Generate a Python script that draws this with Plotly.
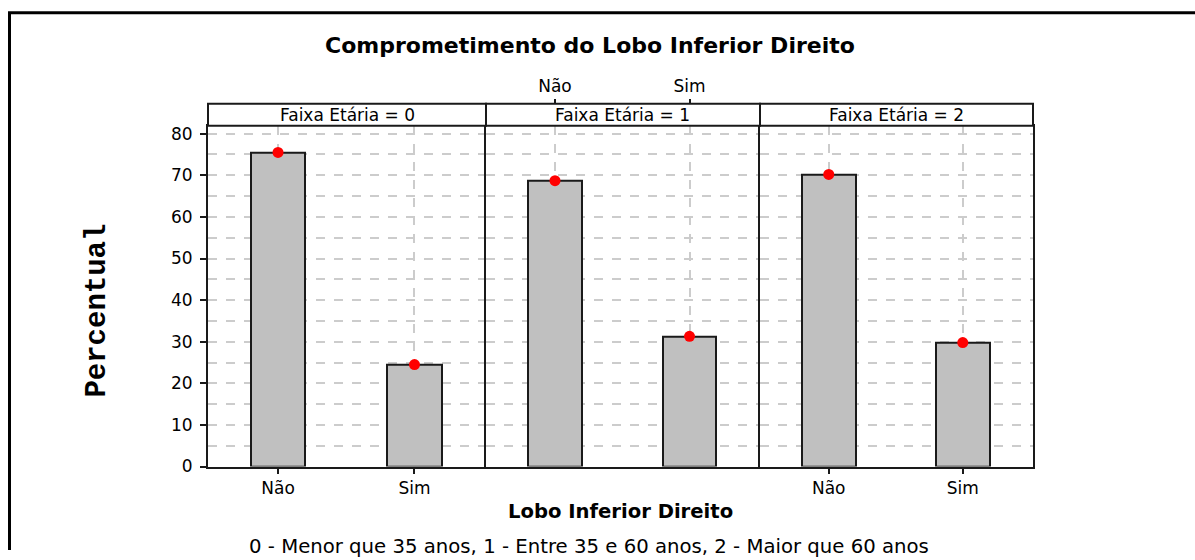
import plotly.graph_objects as go

W, H = 1195, 560

CATEGORIES = ["Não", "Sim"]
AGE_GROUPS = ["0", "1", "2"]
PCT_NAO = [75.5, 68.7, 70.2]
PCT_SIM = [24.5, 31.3, 29.8]
Y_TICKS = [0, 10, 20, 30, 40, 50, 60, 70, 80]

TITLE = "Comprometimento do Lobo Inferior Direito"
X_TITLE = "Lobo Inferior Direito"
Y_TITLE = "Percentual"
FOOTNOTE = "0 - Menor que 35 anos, 1 - Entre 35 e 60 anos, 2 - Maior que 60 anos"
STRIP_LABEL = "Faixa Etária = "

# vertical compensation measured from the rendered output
VS, VO = 0.979, 1.25


def px_x(p):
    return p / W


def px_y(p):
    return 1 - ((p - VO) / VS) / H


panel_px = [(208, 486), (486, 760), (760, 1033)]
plot_top, plot_bot, strip_top = 125, 466, 103

FONT = "DejaVu Sans"
BAR_FILL = "#C0C0C0"
EDGE = "#1a1a1a"
GRID = "#CCCCCC"

fig = go.Figure()
for i, g in enumerate(AGE_GROUPS):
    ax = "" if i == 0 else str(i + 1)
    vals = [PCT_NAO[i], PCT_SIM[i]]
    fig.add_trace(go.Bar(
        x=CATEGORIES, y=vals, xaxis="x" + ax, yaxis="y" + ax,
        width=0.4, marker=dict(color=BAR_FILL, line=dict(color=EDGE, width=2)),
        showlegend=False, hoverinfo="x+y"))
    fig.add_trace(go.Scatter(
        x=CATEGORIES, y=vals, xaxis="x" + ax, yaxis="y" + ax,
        mode="markers", marker=dict(color="red", size=11),
        cliponaxis=False, showlegend=False))

# invisible trace so the top axis of the middle panel is drawn
fig.add_trace(go.Scatter(x=[0, 1], y=[None, None], xaxis="x4", yaxis="y2",
                         mode="markers", showlegend=False, hoverinfo="skip"))

yrange = [0, (plot_bot - plot_top) / ((plot_bot - 133) / 80)]
xrange = [-0.513, 1.524]

layout = dict(
    width=W, height=H, margin=dict(l=0, r=0, t=0, b=0),
    paper_bgcolor="white", plot_bgcolor="white",
    font=dict(family=FONT, size=16, color="black"),
    bargap=0,
)

for i in range(3):
    ax = "" if i == 0 else str(i + 1)
    x0, x1 = panel_px[i]
    xa = dict(
        domain=[px_x(x0), px_x(x1)], anchor="y" + ax, type="category",
        categoryarray=CATEGORIES, range=xrange,
        showline=True, linecolor=EDGE, linewidth=2, mirror=True,
        showgrid=True, gridcolor=GRID, griddash="dash", gridwidth=1.5,
        zeroline=False, fixedrange=True,
        tickfont=dict(size=17),
    )
    if i == 1:
        xa.update(showticklabels=False, ticks="")
    else:
        xa.update(ticks="outside", ticklen=5, tickwidth=1.5, tickcolor=EDGE)
    ya = dict(
        domain=[px_y(plot_bot), px_y(plot_top)], anchor="x" + ax,
        range=yrange, showline=True, linecolor=EDGE, linewidth=2,
        mirror=(i == 2),
        showgrid=True, gridcolor=GRID, griddash="dash", gridwidth=1.5,
        minor=dict(dtick=5, showgrid=True, gridcolor=GRID, griddash="dash", gridwidth=1.5),
        zeroline=False, fixedrange=True,
        tickvals=Y_TICKS,
    )
    if i == 0:
        ya.update(ticks="outside", ticklen=6, tickwidth=1.5, tickcolor=EDGE,
                  tickfont=dict(size=17), ticklabelstandoff=4)
    else:
        ya.update(showticklabels=False, ticks="", matches="y")
    layout["xaxis" + ax] = xa
    layout["yaxis" + ax] = ya

# top axis for middle panel
layout["xaxis4"] = dict(
    overlaying="x2", side="top", anchor="free", position=px_y(strip_top),
    type="linear", range=xrange, tickmode="array", tickvals=[0, 1],
    ticktext=CATEGORIES, ticks="outside", ticklen=5, tickwidth=1.5,
    tickcolor=EDGE, showline=False, showgrid=False, zeroline=False,
    tickfont=dict(size=17), fixedrange=True,
)

shapes = []
annotations = []
for i, g in enumerate(AGE_GROUPS):
    x0, x1 = panel_px[i]
    shapes.append(dict(type="rect", xref="paper", yref="paper",
                       x0=px_x(x0), x1=px_x(x1), y0=px_y(plot_top), y1=px_y(strip_top),
                       line=dict(color=EDGE, width=2), fillcolor="white", layer="above"))
    annotations.append(dict(text=STRIP_LABEL + g, xref="paper", yref="paper",
                            x=px_x((x0 + x1) / 2), y=px_y((plot_top + strip_top) / 2),
                            xanchor="center", yanchor="middle", showarrow=False,
                            font=dict(size=17)))

# outer border (top and left)
shapes.append(dict(type="line", xref="paper", yref="paper",
                   x0=px_x(8), x1=1, y0=px_y(12), y1=px_y(12),
                   line=dict(color="black", width=3)))
shapes.append(dict(type="line", xref="paper", yref="paper",
                   x0=px_x(9.5), x1=px_x(9.5), y0=px_y(12), y1=0,
                   line=dict(color="black", width=3)))

annotations += [
    dict(text="<b>" + TITLE + "</b>", xref="paper", yref="paper",
         x=px_x(590), y=px_y(45), xanchor="center", yanchor="middle",
         showarrow=False, font=dict(size=22)),
    dict(text="<b>" + X_TITLE + "</b>", xref="paper", yref="paper",
         x=px_x(620), y=px_y(511), xanchor="center", yanchor="middle",
         showarrow=False, font=dict(size=19.6)),
    dict(text=FOOTNOTE, xref="paper", yref="paper",
         x=px_x(589), y=px_y(546), xanchor="center", yanchor="middle",
         showarrow=False, font=dict(size=19.7)),
    dict(text="<b>" + Y_TITLE + "</b>", xref="paper", yref="paper",
         x=px_x(98), y=px_y(310), xanchor="center", yanchor="middle",
         textangle=-90, showarrow=False,
         font=dict(family="Liberation Mono", size=29)),
]

layout["shapes"] = shapes
layout["annotations"] = annotations
fig.update_layout(**layout)

fig.write_html("out.html", config={"displayModeBar": False},
               post_script="document.body.style.margin='0';document.body.style.overflow='hidden';")
